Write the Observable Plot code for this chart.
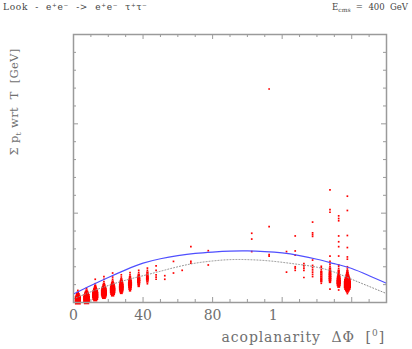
<!DOCTYPE html>
<html><head><meta charset="utf-8">
<script src="https://cdn.jsdelivr.net/npm/d3@7"></script>
<script src="https://cdn.jsdelivr.net/npm/@observablehq/plot@0.6"></script>
<style>
body{margin:0;background:#fff;}
#chart svg{display:block;}
</style>
</head><body><div id="chart"></div>
<script>
// ---- texts ----
const titleLeft = "Look  -  e\u207Ae\u207B  ->  e\u207Ae\u207B  \u03C4\u207A\u03C4\u207B";
const yLabelParts = ["\u03A3 p", "t", " wrt  T  [GeV]"];
const xLabelParts = ["acoplanarity  \u0394\u03A6  [", "0", "]"];

// ---- axis ticks ----
const xTickValues = [0, 40, 80, 120];
const xTickLabels = ["0", "40", "80", "1\u2007\u2007"];
const xMajor = [0, 40, 80, 120, 160];
const xMinor = [10, 20, 30, 50, 60, 70, 90, 100, 110, 130, 140, 150, 170];
const yMajor = [10, 20];
const yMinor = [2, 4, 6, 8, 12, 14, 16, 18, 22, 24, 26, 28];

// ---- fitted curves (sampled every 10 degrees) ----
const curvePhi  = [0, 10, 20, 30, 40, 50, 60, 70, 80, 90, 100, 110, 120, 130, 140, 150, 160, 170, 180];
const fitBlue   = [0.95, 1.9, 2.8, 3.65, 4.4, 4.9, 5.25, 5.5, 5.65, 5.75, 5.77, 5.7, 5.55, 5.25, 4.84, 4.35, 3.8, 3.0, 2.15];
const fitDotted = [0.4, 1.2, 1.9, 2.5, 3.0, 3.5, 4.0, 4.4, 4.65, 4.8, 4.8, 4.7, 4.5, 4.25, 3.95, 3.4, 2.6, 1.8, 1.0];

// ---- 2D histogram: acoplanarity bin centres and [pt, entries] cells ----
const binPhi = [2.5, 7.5, 12.5, 17.5, 22.5, 27.5, 32.5, 37.5, 42.5, 47.5, 52.5, 57.5, 62.5, 67.5, 77.5,
                102.5, 112.5, 122.5, 127.5, 132.5, 137.5, 142.5, 147.5, 152.5, 157.5];
const binCells = [
  [[0.1,12],[0.35,14],[0.6,9],[0.85,5],[1.1,2],[1.35,1]],
  [[0.1,10],[0.35,16],[0.6,14],[0.85,9],[1.1,5],[1.35,2],[1.6,1]],
  [[0.35,6],[0.6,12],[0.85,14],[1.1,11],[1.35,7],[1.6,4],[1.85,2],[2.1,1],[2.6,1]],
  [[0.6,5],[0.85,10],[1.1,13],[1.35,11],[1.6,7],[1.85,4],[2.1,2],[2.35,1],[2.6,1],[2.9,1]],
  [[0.85,4],[1.1,8],[1.35,11],[1.6,10],[1.85,7],[2.1,4],[2.35,2],[2.6,1],[2.85,1],[3.3,1]],
  [[1.1,3],[1.35,6],[1.6,8],[1.85,8],[2.1,6],[2.35,4],[2.6,2],[2.85,1],[3.1,1]],
  [[1.35,2],[1.6,4],[1.85,5],[2.1,6],[2.35,5],[2.6,3],[2.85,2],[3.1,1],[3.35,1]],
  [[1.85,2],[2.1,3],[2.35,4],[2.6,4],[2.85,3],[3.1,2],[3.35,1],[3.6,1]],
  [[2.1,1],[2.35,2],[2.6,3],[2.85,3],[3.1,2],[3.35,2],[3.6,1],[3.85,1]],
  [[2.6,1],[2.85,1],[3.1,1],[3.6,1],[4.1,1]],
  [[2.6,1],[3.0,1]],
  [[3.3,1],[4.6,1]],
  [[3.6,1]],
  [[4.4,1],[4.6,1],[6.25,1]],
  [[4.2,1],[5.8,1]],
  [[5.7,1],[7.1,1],[7.75,1]],
  [[5.2,1],[5.35,1],[8.5,1],[23.9,1]],
  [[3.4,1],[5.7,1]],
  [[3.6,1],[3.85,1],[4.0,1],[5.3,1],[5.77,1],[7.45,1]],
  [[2.8,1],[3.6,1],[3.85,1],[4.1,1],[4.35,1]],
  [[2.9,1],[3.15,1],[3.4,1],[3.65,1],[3.9,1],[4.15,1],[4.75,1],[7.4,1],[7.6,1],[7.8,1],[9.0,1]],
  [[2.15,1],[2.4,2],[2.65,2],[2.9,2],[3.15,2],[3.4,2],[3.65,1],[3.9,1],[4.05,1]],
  [[1.5,1],[2.3,2],[2.55,3],[2.8,3],[3.05,3],[3.3,3],[3.55,2],[3.8,2],[4.05,1],[4.3,1],[4.6,1],[5.2,1],[10.1,1],[10.4,1],[12.6,1]],
  [[1.4,1],[1.8,3],[2.05,6],[2.3,7],[2.55,6],[2.8,5],[3.05,3],[3.3,2],[3.55,2],[3.8,1],[4.05,1],[4.2,1],[5.2,1],[6.25,1],[6.8,1],[7.45,1],[9.15,1],[9.4,1],[9.7,1]],
  [[1.0,1],[1.25,3],[1.5,8],[1.75,14],[2.0,18],[2.25,16],[2.5,12],[2.75,8],[3.0,5],[3.25,3],[3.5,2],[3.75,1],[4.0,1],[4.85,1],[5.1,1],[6.15,1],[7.5,1],[10.3,1],[11.9,1]]
];

// ---- build tables ----
const cells = binPhi.flatMap((phi, i) => binCells[i].map(([pt, n]) => ({phi, pt, n})));
const blue = curvePhi.map((phi, i) => ({phi, pt: fitBlue[i]}));
const dotted = curvePhi.map((phi, i) => ({phi, pt: fitDotted[i]}));

const W = 412, H = 349, mL = 73, mR = 26, mT = 34, mB = 47;
const pw = W - mL - mR, ph = H - mT - mB;
const axisColor = "#9a9a9a";
const majLen = 5, minLen = 3;

const chart = Plot.plot({
  width: W, height: H,
  marginLeft: mL, marginRight: mR, marginTop: mT, marginBottom: mB,
  x: {domain: [0, 180], axis: null},
  y: {domain: [0, 30], axis: null},
  r: {type: "sqrt", domain: [0, 25], range: [0, 4.8]},
  style: {fontFamily: "DejaVu Serif", background: "#fff", overflow: "visible"},
  marks: [
    Plot.dot(cells, {x: "phi", y: "pt", r: "n", symbol: "square", fill: "#ff0000", stroke: "none"}),
    Plot.line(dotted, {x: "phi", y: "pt", curve: "natural", stroke: "#8c8c8c", strokeWidth: 1, strokeDasharray: "1,2"}),
    Plot.line(blue, {x: "phi", y: "pt", curve: "natural", stroke: "#4f4fff", strokeWidth: 1.2}),
    // ticks on four sides (inward)
    Plot.tickX(xMajor, {x: d => d, insetTop: ph - majLen, stroke: axisColor}),
    Plot.tickX(xMinor, {x: d => d, insetTop: ph - minLen, stroke: axisColor}),
    Plot.tickX(xMajor, {x: d => d, insetBottom: ph - majLen, stroke: axisColor}),
    Plot.tickX(xMinor, {x: d => d, insetBottom: ph - minLen, stroke: axisColor}),
    Plot.tickY(yMajor, {y: d => d, insetRight: pw - majLen, stroke: axisColor}),
    Plot.tickY(yMinor, {y: d => d, insetRight: pw - minLen, stroke: axisColor}),
    Plot.tickY(yMajor, {y: d => d, insetLeft: pw - majLen, stroke: axisColor}),
    Plot.tickY(yMinor, {y: d => d, insetLeft: pw - minLen, stroke: axisColor}),
    Plot.frame({stroke: axisColor, strokeWidth: 1.5}),
    Plot.text(xTickValues, {x: d => d, text: (d, i) => xTickLabels[i], frameAnchor: "bottom", dy: 13,
      lineAnchor: "middle", fontSize: 14, fill: "#707070", fontFamily: "DejaVu Serif"})
  ]
});
document.getElementById("chart").appendChild(chart);

// ---- titles and axis labels as real SVG text ----
const svg = d3.select(chart);
svg.append("text").attr("x", 3).attr("y", 10).attr("text-anchor", "start").attr("font-size", 9)
  .attr("letter-spacing", 0.7).attr("fill", "#444")
  .attr("font-family", "DejaVu Serif").style("white-space", "pre").text(titleLeft);
const eT = svg.append("text").attr("x", 408).attr("y", 10).attr("text-anchor", "end")
  .attr("font-size", 8.5).attr("fill", "#444").attr("font-family", "DejaVu Serif").style("white-space", "pre");
eT.append("tspan").text("E");
eT.append("tspan").attr("font-size", 6).attr("dy", 2).text("cms");
eT.append("tspan").attr("dy", -2).text("  =  400  GeV");

const yl = svg.append("text").attr("transform", "translate(18,102) rotate(-90)").attr("text-anchor", "middle")
  .attr("font-size", 11.5).attr("letter-spacing", 0.3).attr("fill", "#707070").attr("font-family", "DejaVu Serif").style("white-space", "pre");
yl.append("tspan").text(yLabelParts[0]);
yl.append("tspan").attr("font-size", 8).attr("dy", 3).text(yLabelParts[1]);
yl.append("tspan").attr("dy", -3).text(yLabelParts[2]);

const xl = svg.append("text").attr("x", 385).attr("y", 342).attr("text-anchor", "end")
  .attr("font-size", 14).attr("letter-spacing", 0.9).attr("fill", "#707070").attr("font-family", "DejaVu Serif").style("white-space", "pre");
xl.append("tspan").text(xLabelParts[0]);
xl.append("tspan").attr("font-size", 9).attr("dy", -6).text(xLabelParts[1]);
xl.append("tspan").attr("dy", 6).text(xLabelParts[2]);
</script>
</body></html>
